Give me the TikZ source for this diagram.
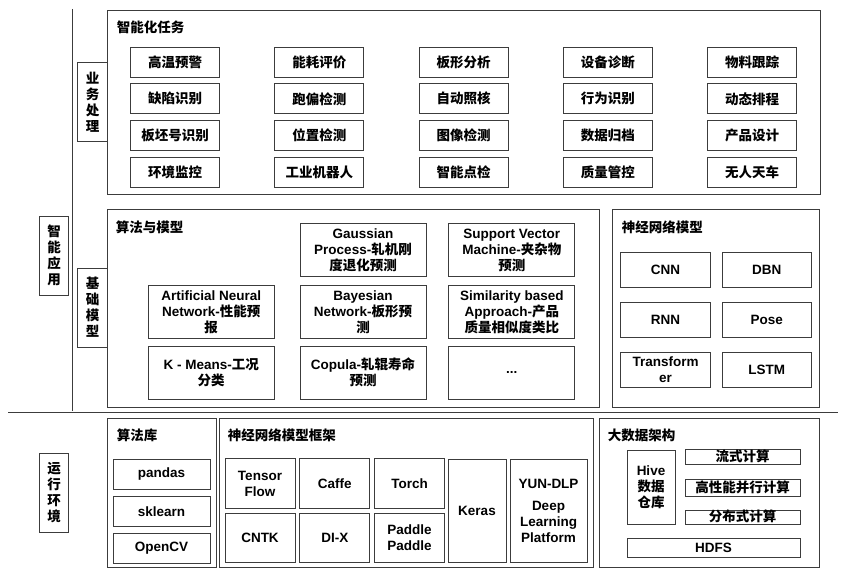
\documentclass[tikz,border=0pt]{standalone}
\usepackage{fontspec}
\setmainfont{Liberation Sans}
\newfontfamily\cjk{Noto Sans CJK SC}
\usepackage{xcolor}
\usepackage{tikz}
\usetikzlibrary{positioning}
\definecolor{edge}{HTML}{3C3C3C}
\newcommand{\zh}[1]{{\cjk #1}}

\begin{document}
\begin{tikzpicture}[x=1pt, y=-1pt, node distance=7pt and 11pt,
  every node/.style={font=\bfseries\fontsize{13.5}{16}\selectfont},
  zh/.style={font=\bfseries\fontsize{13.5}{16}\selectfont\cjk},
  panel/.style={draw=edge, line width=0.9pt, inner sep=0pt},
  box/.style={draw=edge, line width=0.8pt, align=center, inner sep=1pt},
  sidebox/.style={box, fill=white, minimum width=29.5pt, minimum height=79pt},
  task/.style={box, minimum width=89pt, minimum height=30pt},
  model/.style={box, minimum width=126pt, minimum height=53pt},
  net/.style={box, minimum width=89.5pt, minimum height=35pt},
  libbox/.style={box, minimum width=97pt, minimum height=30pt},
  fw/.style={box, minimum width=70pt, minimum height=49.5pt},
  bar/.style={box, inner sep=0pt, minimum width=115pt, text height=10.5pt, text depth=1.5pt},
  ttl/.style={zh, anchor=west, inner sep=0pt},
  sep/.style={draw=edge, line width=0.9pt}]
\useasboundingbox (0,0) rectangle (843,575);

% separators
\coordinate (vtop) at (72,9);
\coordinate (vbot) at (72,411);
\coordinate (hleft) at (8,412);
\coordinate (hright) at (838,412);
\draw[sep] (vtop) -- (vbot);
\draw[sep] (hleft) -- (hright);

% business layer
\node[panel, minimum width=713pt, minimum height=184pt] (tasks) at (463.5,102) {};
\node[ttl] (tasks-t) at ([shift={(10,17.5)}]tasks.north west) {智能化任务};
\foreach \row [count=\j from 0] in {{高温预警,能耗评价,板形分析,设备诊断,物料跟踪},
    {缺陷识别,跑偏检测,自动照核,行为识别,动态排程},
    {板坯号识别,位置检测,图像检测,数据归档,产品设计},
    {环境监控,工业机器人,智能点检,质量管控,无人天车}}
  \foreach \t [count=\i from 0] in \row
    \node[task, zh] (t-\j-\i) at (175+144.25*\i, 62+36.8*\j) {\t};

% base models
\node[panel, minimum width=492pt, minimum height=198pt] (algo) at (353,308) {};
\node[ttl] (algo-t) at ([shift={(9,19)}]algo.north west) {算法与模型};
\node[model] (gp) at (363,250) {Gaussian\\Process-\zh{轧机刚}\\\zh{度退化预测}};
\node[model, right=22pt of gp] (svm) {Support Vector\\Machine-\zh{夹杂物}\\\zh{预测}};
\node[model, below=8pt of gp] (bn) {Bayesian\\Network-\zh{板形预}\\\zh{测}};
\node[model, left=25pt of bn] (ann) {Artificial Neural\\Network-\zh{性能预}\\\zh{报}};
\node[model, below=8pt of svm] (sim) {Similarity based\\Approach-\zh{产品}\\\zh{质量相似度类比}};
\node[model, below=7pt of bn] (cop) {Copula-\zh{轧辊寿命}\\\zh{预测}};
\node[model, below=7pt of ann] (km) {K - Means-\zh{工况}\\\zh{分类}};
\node[model, below=7pt of sim] (etc) {...};

\node[panel, minimum width=207pt, minimum height=198pt] (nnm) at (715.5,308) {};
\node[ttl] (nnm-t) at ([shift={(10,19)}]nnm.north west) {神经网络模型};
\node[net] (cnn) at (665.5,269.5) {CNN};
\node[net, right=11pt of cnn] (dbn) {DBN};
\node[net, below=15pt of cnn] (rnn) {RNN};
\node[net, below=15pt of dbn] (pose) {Pose};
\node[net, below=14pt of rnn] (tr) {Transform\\er};
\node[net, below=14pt of pose] (lstm) {LSTM};

% runtime
\node[panel, minimum width=109pt, minimum height=149pt] (lib) at (161.5,492.5) {};
\node[ttl] (lib-t) at ([shift={(10,18)}]lib.north west) {算法库};
\node[libbox] (pd) at (161.5,474) {pandas};
\node[libbox, below=7pt of pd] (skl) {sklearn};
\node[libbox, below=6pt of skl] (cv) {OpenCV};

\node[panel, minimum width=374pt, minimum height=149pt] (frm) at (406,492.5) {};
\node[ttl] (frm-t) at ([shift={(9,18)}]frm.north west) {神经网络模型框架};
\node[fw] (tf) at (260,483.5) {Tensor\\Flow};
\node[fw, right=4pt of tf] (caffe) {Caffe};
\node[fw, right=4pt of caffe] (torch) {Torch};
\node[fw, below=4pt of tf] (cntk) {CNTK};
\node[fw, below=4pt of caffe] (dix) {DI-X};
\node[fw, below=4pt of torch] (pp) {Paddle\\Paddle};
\node[box, minimum width=58pt, minimum height=103pt] (keras) at (477,510.5) {Keras};
\node[box, minimum width=77pt, minimum height=103pt] (yun) at (548.5,510.5) {YUN-DLP\\[6pt]Deep\\Learning\\Platform};

\node[panel, minimum width=220pt, minimum height=149pt] (big) at (709,492.5) {};
\node[ttl] (big-t) at ([shift={(9,18)}]big.north west) {大数据架构};
\node[box, minimum width=48pt, minimum height=74pt] (hive) at (651,487) {Hive\\\zh{数据}\\\zh{仓库}};
\node[bar, zh, minimum height=15pt] (flow) at (742.5,456.5) {流式计算};
\node[bar, zh, minimum height=17pt] (hpc) at (742.5,487.5) {高性能并行计算};
\node[bar, zh, minimum height=14pt] (dist) at (742.5,517) {分布式计算};
\node[bar, minimum width=173pt, minimum height=19pt] (hdfs) at (713.5,547.5) {HDFS};

% side labels
\node[sidebox, zh] (yw) at (92.5,102) {业\\务\\处\\理};
\node[sidebox, zh] (jc) at (92.5,307.5) {基\\础\\模\\型};
\node[sidebox, zh] (zn) at (54,255.5) {智\\能\\应\\用};
\node[sidebox, zh] (yx) at (54,492.5) {运\\行\\环\\境};
\end{tikzpicture}
\end{document}
